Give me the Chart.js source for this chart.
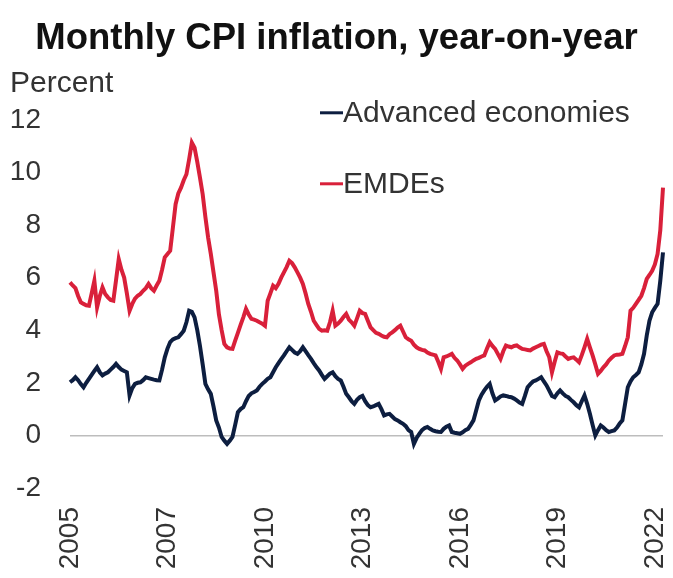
<!DOCTYPE html>
<html>
<head>
<meta charset="utf-8">
<script src="https://cdn.jsdelivr.net/npm/chart.js@4/dist/chart.umd.min.js"></script>
<style>
  html, body { margin: 0; padding: 0; background: #fff; }
  #wrap { width: 673px; height: 578px; position: relative; }
</style>
</head>
<body>
<div id="wrap"><canvas id="c" width="673" height="578"></canvas></div>
<script>
// ---- Data (monthly) ----
const seriesNames = ['Advanced economies', 'EMDEs'];
const tickLabels = ['2005', '2007', '2010', '2013', '2016', '2019', '2022'];
const tickEvery = 36; // months between labelled ticks

const advanced = [
  2.02, 2.1, 2.21, 2.1, 1.95, 1.83, 2.0, 2.15, 2.3, 2.45, 2.59, 2.4,
  2.28, 2.35, 2.4, 2.5, 2.6, 2.72, 2.6, 2.5, 2.45, 2.4, 1.52, 1.8,
  1.96, 2.0, 2.02, 2.1, 2.21, 2.18, 2.15, 2.12, 2.1, 2.09, 2.5, 2.97,
  3.3, 3.55, 3.65, 3.7, 3.73, 3.85, 3.98, 4.3, 4.74, 4.7, 4.49, 4.0,
  3.4, 2.7, 1.96, 1.75, 1.58, 1.1, 0.57, 0.3, -0.06, -0.2, -0.32, -0.2,
  -0.06, 0.4, 0.88, 1.0, 1.07, 1.3, 1.5, 1.6, 1.65, 1.71, 1.85, 1.96,
  2.05, 2.15, 2.21, 2.4, 2.59, 2.75, 2.9, 3.04, 3.2, 3.35, 3.25, 3.15,
  3.1, 3.2, 3.35, 3.2, 3.05, 2.91, 2.75, 2.6, 2.47, 2.3, 2.15, 2.25,
  2.35, 2.4, 2.25, 2.15, 2.09, 1.85, 1.58, 1.45, 1.3, 1.2, 1.35, 1.45,
  1.5, 1.3, 1.15, 1.07, 1.1, 1.15, 1.2, 1.0, 0.76, 0.8, 0.82, 0.72,
  0.62, 0.57, 0.5, 0.44, 0.35, 0.2, 0.13, -0.32, -0.1, 0.06, 0.2, 0.28,
  0.32, 0.25, 0.19, 0.16, 0.14, 0.13, 0.25, 0.33, 0.38, 0.13, 0.1, 0.08,
  0.06, 0.12, 0.2, 0.25, 0.4, 0.57, 0.95, 1.33, 1.55, 1.71, 1.85, 1.96,
  1.6, 1.33, 1.4, 1.48, 1.52, 1.5, 1.47, 1.45, 1.4, 1.33, 1.25, 1.2,
  1.5, 1.83, 1.95, 2.05, 2.09, 2.15, 2.21, 2.05, 1.9, 1.7, 1.5, 1.45,
  1.6, 1.71, 1.6, 1.5, 1.45, 1.35, 1.26, 1.15, 1.07, 1.3, 1.52, 1.2,
  0.82, 0.4, 0.0, 0.2, 0.38, 0.3, 0.2, 0.13, 0.16, 0.19, 0.3, 0.45,
  0.57, 1.2, 1.83, 2.05, 2.21, 2.3, 2.4, 2.7, 3.1, 3.8, 4.36, 4.68,
  4.85, 5.0, 5.88, 6.96
];

const emdes = [
  5.82, 5.7, 5.6, 5.3, 5.06, 5.0, 4.95, 4.93, 5.4, 5.88, 4.87, 5.3,
  5.63, 5.38, 5.25, 5.15, 5.12, 5.9, 6.7, 6.3, 6.0, 5.4, 4.74, 5.0,
  5.2, 5.31, 5.38, 5.5, 5.6, 5.76, 5.6, 5.5, 5.7, 5.88, 6.3, 6.77,
  6.9, 7.02, 7.9, 8.79, 9.2, 9.42, 9.7, 9.93, 10.5, 11.13, 10.94, 10.4,
  9.8, 9.17, 8.3, 7.53, 6.9, 6.2, 5.5, 4.6, 4.0, 3.48, 3.35, 3.3,
  3.29, 3.6, 3.9, 4.2, 4.49, 4.81, 4.6, 4.43, 4.4, 4.36, 4.3, 4.25,
  4.17, 5.12, 5.4, 5.69, 5.6, 5.76, 6.0, 6.2, 6.4, 6.64, 6.55, 6.39,
  6.2, 6.0, 5.76, 5.4, 5.0, 4.7, 4.36, 4.2, 4.05, 3.98, 4.0, 3.98,
  4.3, 4.74, 4.17, 4.25, 4.36, 4.5, 4.62, 4.4, 4.3, 4.17, 4.45, 4.74,
  4.65, 4.62, 4.36, 4.11, 4.0, 3.9, 3.86, 3.8, 3.75, 3.73, 3.85, 3.92,
  4.0, 4.1, 4.17, 3.95, 3.73, 3.65, 3.6, 3.45, 3.35, 3.29, 3.25, 3.23,
  3.15, 3.1, 3.07, 3.04, 2.8, 2.53, 2.97, 3.0, 3.05, 3.1, 2.95, 2.85,
  2.7, 2.53, 2.65, 2.72, 2.78, 2.85, 2.91, 2.95, 3.0, 3.04, 3.3, 3.54,
  3.4, 3.29, 3.1, 2.91, 3.2, 3.42, 3.38, 3.35, 3.4, 3.42, 3.35, 3.29,
  3.27, 3.25, 3.23, 3.3, 3.35, 3.4, 3.45, 3.48, 3.2, 2.97, 2.4, 2.8,
  3.16, 3.12, 3.1, 3.0, 2.91, 2.95, 2.97, 2.88, 2.78, 3.05, 3.35, 3.67,
  3.35, 3.04, 2.7, 2.34, 2.45, 2.59, 2.7, 2.85, 2.95, 3.04, 3.07, 3.08,
  3.1, 3.4, 3.73, 4.74, 4.85, 5.0, 5.15, 5.31, 5.6, 5.95, 6.1, 6.26,
  6.5, 6.9, 7.8, 9.42
];

// monthly category labels (one per observation)
const categories = advanced.map((_, i) => 'm' + i);

const COLORS = { adv: '#0d1e40', emde: '#d9203a', zero: '#bdbdbd', text: '#333333' };
const FONT = "'Liberation Sans', Arial, sans-serif";

const legendPlugin = {
  id: 'insideLegend',
  afterDatasetsDraw(chart) {
    const { ctx, chartArea } = chart;
    const x0 = chartArea.left + 250;
    const ys = [chartArea.top - 7, chartArea.top + 64];
    ctx.save();
    chart.data.datasets.forEach((ds, i) => {
      const y = ys[i];
      ctx.strokeStyle = ds.borderColor;
      ctx.lineWidth = 3;
      ctx.beginPath();
      ctx.moveTo(x0, y);
      ctx.lineTo(x0 + 23, y);
      ctx.stroke();
      ctx.fillStyle = COLORS.text;
      ctx.font = '30px ' + FONT;
      ctx.textAlign = 'left';
      ctx.textBaseline = 'middle';
      ctx.fillText(ds.label, x0 + 23, y + 1);
    });
    ctx.restore();
  }
};

new Chart(document.getElementById('c'), {
  type: 'line',
  data: {
    labels: categories,
    datasets: [
      { label: seriesNames[0], data: advanced, borderColor: COLORS.adv, borderWidth: 4,
        pointRadius: 0, tension: 0, fill: false },
      { label: seriesNames[1], data: emdes, borderColor: COLORS.emde, borderWidth: 4,
        pointRadius: 0, tension: 0, fill: false }
    ]
  },
  options: {
    responsive: false,
    animation: false,
    layout: { padding: { top: 6, left: 10, right: 10, bottom: 9 } },
    plugins: {
      legend: { display: false },
      tooltip: { enabled: false },
      title: {
        display: true,
        text: 'Monthly CPI inflation, year-on-year',
        color: '#111111',
        font: { family: FONT, size: 36.5, weight: 'bold' },
        padding: { top: 11, bottom: 0 }
      },
      subtitle: {
        display: true,
        text: 'Percent',
        align: 'start',
        color: COLORS.text,
        font: { family: FONT, size: 30 },
        padding: { top: 5, bottom: 18 }
      }
    },
    scales: {
      x: {
        type: 'category',
        offset: false,
        grid: { display: false, drawTicks: false },
        border: { display: false },
        afterFit: (s) => { s.paddingLeft = 0; s.paddingRight = 0; s.height = 81; },
        ticks: {
          autoSkip: false,
          minRotation: 90,
          maxRotation: 90,
          padding: 19,
          color: COLORS.text,
          font: { family: FONT, size: 28 },
          callback: (val, idx) => (idx % tickEvery === 0 && tickLabels[idx / tickEvery]) ? tickLabels[idx / tickEvery] : null
        }
      },
      y: {
        min: -2,
        max: 12,
        afterFit: (s) => { s.width = 60; },
        grid: {
          drawTicks: false,
          color: (c) => (c.tick && c.tick.value === 0) ? COLORS.zero : 'rgba(0,0,0,0)',
          lineWidth: 1.5
        },
        border: { display: false },
        ticks: {
          stepSize: 2,
          padding: 29,
          color: COLORS.text,
          font: { family: FONT, size: 28 }
        }
      }
    }
  },
  plugins: [legendPlugin]
});
</script>
</body>
</html>
